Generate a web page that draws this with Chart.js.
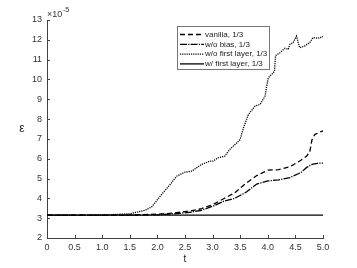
<!DOCTYPE html>
<html>
<head>
<meta charset="utf-8">
<script src="https://cdn.jsdelivr.net/npm/chart.js@4"></script>
<style>
    html, body { margin: 0; padding: 0; background: #fff; }
    #wrap { position: relative; width: 357px; height: 268px; }
</style>
</head>
<body>
<div id="wrap"><canvas id="chart" width="357" height="268"></canvas></div>
<script>
// values in units of 1e-5
var vanillaT = [0, 1, 1.5, 2, 2.3, 2.6, 2.8, 3.0, 3.2, 3.4, 3.6, 3.8, 4.0, 4.2, 4.4, 4.6, 4.7, 4.76, 4.8, 4.85, 4.95, 5.0];
var vanillaY = [3.15, 3.15, 3.16, 3.2, 3.26, 3.37, 3.48, 3.68, 3.98, 4.28, 4.75, 5.15, 5.42, 5.45, 5.6, 5.92, 6.12, 6.35, 6.95, 7.22, 7.35, 7.4];

var noBiasT = [0, 1, 1.5, 2, 2.3, 2.6, 2.8, 3.0, 3.2, 3.4, 3.6, 3.8, 4.0, 4.2, 4.4, 4.6, 4.7, 4.8, 4.9, 5.0];
var noBiasY = [3.15, 3.15, 3.15, 3.17, 3.22, 3.3, 3.4, 3.6, 3.85, 4.0, 4.3, 4.72, 4.88, 4.93, 5.05, 5.3, 5.55, 5.72, 5.77, 5.78];

var noFirstT = [0, 1, 1.5, 1.78, 1.9, 2.05, 2.23, 2.35, 2.5, 2.62, 2.8, 2.95, 3.01, 3.1, 3.22, 3.31, 3.44, 3.5, 3.56, 3.65, 3.77, 3.86, 3.95, 3.98, 4.01, 4.07, 4.12, 4.14, 4.22, 4.31, 4.37, 4.4, 4.46, 4.52, 4.55, 4.58, 4.67, 4.76, 4.82, 4.91, 5.0];
var noFirstY = [3.15, 3.16, 3.22, 3.4, 3.58, 4.11, 4.7, 5.12, 5.32, 5.37, 5.71, 5.88, 5.88, 6.05, 6.13, 6.47, 6.81, 6.97, 7.57, 8.24, 8.66, 8.74, 9.16, 9.67, 10.09, 10.26, 10.4, 11.2, 11.35, 11.57, 11.52, 11.77, 11.86, 12.19, 11.86, 11.6, 11.69, 11.86, 12.11, 12.08, 12.16];

var firstT = [0, 5];
var firstY = [3.15, 3.15];

var labels = ['vanilla, 1/3', 'w/o bias, 1/3', 'w/o first layer, 1/3', 'w/ first layer, 1/3'];
var dashes = [[5, 3], [7, 1.2, 1.2, 1.2], [1.2, 1], []];

function toPoints(ts, ys) {
    return ts.map(function (t, i) { return { x: t, y: ys[i] }; });
}

var FONT = '"Liberation Sans", Arial, sans-serif';
var AXIS = '#404040';

var inwardTicks = {
    id: 'inwardTicks',
    afterDraw: function (chart) {
        var ctx = chart.ctx, a = chart.chartArea;
        var xs = chart.scales.x, ys = chart.scales.y;
        ctx.save();
        ctx.strokeStyle = AXIS;
        ctx.lineWidth = 1;
        xs.ticks.forEach(function (t) {
            var px = Math.round(xs.getPixelForValue(t.value)) + 0.5;
            ctx.beginPath();
            ctx.moveTo(px, a.bottom);
            ctx.lineTo(px, a.bottom - 3);
            ctx.stroke();
        });
        ys.ticks.forEach(function (t) {
            var py = Math.round(ys.getPixelForValue(t.value)) + 0.5;
            ctx.beginPath();
            ctx.moveTo(a.left, py);
            ctx.lineTo(a.left + 3, py);
            ctx.stroke();
        });
        // exponent label
        ctx.fillStyle = '#333';
        ctx.textBaseline = 'alphabetic';
        ctx.textAlign = 'left';
        ctx.font = '9px ' + FONT;
        ctx.fillText('\u00d710', a.left, a.top - 3);
        ctx.font = '7px ' + FONT;
        ctx.fillText('-5', a.left + 16, a.top - 8);
        // axis titles
        ctx.font = '12px ' + FONT;
        ctx.textAlign = 'center';
        ctx.fillStyle = '#222';
        ctx.fillText('\u03b5', 22, 132);
        ctx.font = '10px ' + FONT;
        ctx.fillText('t', 185, 262);
        ctx.restore();
    }
};

var boxLegend = {
    id: 'boxLegend',
    afterDraw: function (chart) {
        var ctx = chart.ctx;
        var left = 177, top = 26, w = 92, h = 43;
        ctx.save();
        ctx.fillStyle = '#fff';
        ctx.fillRect(left, top, w, h);
        ctx.strokeStyle = '#777';
        ctx.lineWidth = 1;
        ctx.strokeRect(left + 0.5, top + 0.5, w, h);
        ctx.font = '8px ' + FONT;
        ctx.textBaseline = 'middle';
        ctx.textAlign = 'left';
        chart.data.datasets.forEach(function (ds, i) {
            var y = top + 8.5 + i * 9.8;
            ctx.strokeStyle = '#000';
            ctx.lineWidth = 1.3;
            ctx.setLineDash(ds.borderDash || []);
            ctx.beginPath();
            ctx.moveTo(left + 3, y);
            ctx.lineTo(left + 27, y);
            ctx.stroke();
            ctx.setLineDash([]);
            ctx.fillStyle = '#222';
            ctx.fillText(ds.label, left + 28, y);
        });
        ctx.restore();
    }
};

var datasets = [
    { label: labels[0], data: toPoints(vanillaT, vanillaY), borderDash: dashes[0] },
    { label: labels[1], data: toPoints(noBiasT, noBiasY), borderDash: dashes[1] },
    { label: labels[2], data: toPoints(noFirstT, noFirstY), borderDash: dashes[2] },
    { label: labels[3], data: toPoints(firstT, firstY), borderDash: dashes[3] }
].map(function (ds) {
    ds.borderColor = '#000';
    ds.backgroundColor = '#000';
    ds.borderWidth = 1.3;
    ds.pointRadius = 0;
    ds.tension = 0;
    ds.fill = false;
    return ds;
});

new Chart(document.getElementById('chart'), {
    type: 'line',
    data: { datasets: datasets },
    options: {
        responsive: false,
        animation: false,
        layout: { padding: { left: 0, top: 20, right: 34, bottom: 0 } },
        plugins: { legend: { display: false }, tooltip: { enabled: false } },
        scales: {
            x: {
                type: 'linear',
                min: 0,
                max: 5,
                afterFit: function (s) { s.height = 30; },
                ticks: { stepSize: 0.5, padding: 4, color: '#333', font: { family: FONT, size: 9 }, maxRotation: 0 },
                grid: { drawOnChartArea: false, drawTicks: false },
                border: { color: AXIS, width: 1 }
            },
            y: {
                type: 'linear',
                min: 2,
                max: 13,
                afterFit: function (s) { s.width = 47; },
                ticks: { stepSize: 1, padding: 5, color: '#333', font: { family: FONT, size: 9 } },
                grid: { drawOnChartArea: false, drawTicks: false },
                border: { color: AXIS, width: 1 }
            }
        }
    },
    plugins: [inwardTicks, boxLegend]
});
</script>
</body>
</html>
